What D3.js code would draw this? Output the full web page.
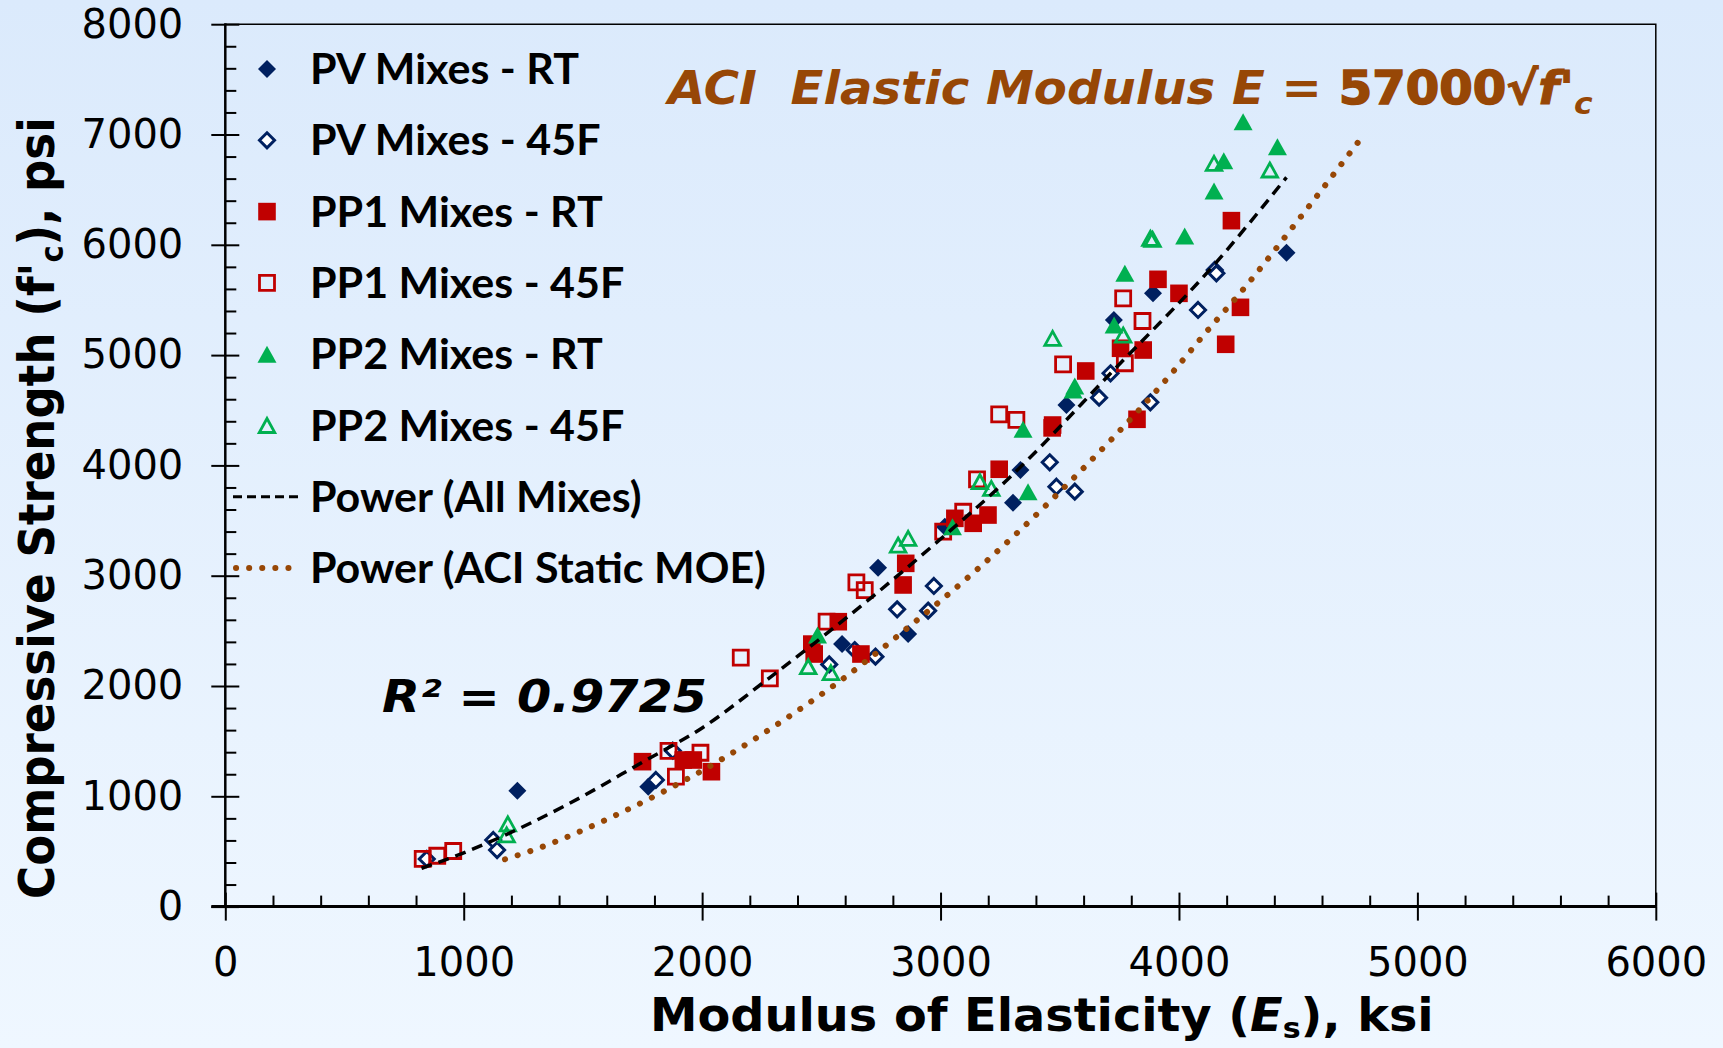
<!DOCTYPE html>
<html lang="en">
<head>
<meta charset="utf-8" />
<title>Compressive Strength vs Modulus of Elasticity</title>
<script src="https://cdn.jsdelivr.net/npm/d3@7"></script>
<style>
  body { margin: 0; background: #e6f1fd; }
  svg { display: block; }
  text { font-family: "DejaVu Sans", Verdana, sans-serif; }
  .legend text { font-family: Lato, "Open Sans", sans-serif; font-weight: bold; }
</style>
</head>
<body>
<div id="chart"></div>
<script>
// ---- data (E in ksi, f'c in psi) ----
var pvRT_E = [1225, 1774, 2587, 2738, 2864, 3018, 3304, 3335, 3528, 3727, 3891, 4451];
var pvRT_F = [1050, 1087, 2381, 3073, 2471, 3444, 3662, 3958, 4548, 5318, 5560, 5928];

var pv45_E = [845, 1124, 1140, 1806, 1877, 2533, 2640, 2727, 2818, 2948, 2972, 3458, 3486, 3563, 3665, 3713, 3880, 4080, 4150, 4157];
var pv45_F = [432, 604, 513, 1148, 1413, 2196, 2326, 2266, 2695, 2683, 2907, 4028, 3807, 3762, 4614, 4835, 4572, 5409, 5772, 5741];

var pp1RT_E = [1750, 1921, 1963, 2039, 2460, 2470, 2571, 2666, 2843, 2854, 3060, 3137, 3199, 3246, 3470, 3468, 3609, 3755, 3850, 3824, 3912, 4000, 4196, 4220, 4258];
var pp1RT_F = [1314, 1329, 1329, 1223, 2380, 2290, 2583, 2290, 2916, 3112, 3520, 3475, 3550, 3965, 4366, 4340, 4856, 5062, 5046, 4418, 5687, 5560, 5098, 6219, 5433];

var pp145_E = [828, 889, 956, 1859, 1890, 1993, 2162, 2284, 2522, 2647, 2682, 3011, 3095, 3153, 3246, 3318, 3514, 3766, 3773, 3847];
var pp145_F = [432, 461, 504, 1411, 1178, 1395, 2257, 2070, 2583, 2940, 2870, 3399, 3580, 3874, 4463, 4412, 4916, 5515, 4926, 5309];

var pp2RT_E = [2484, 3050, 3346, 3367, 3556, 3563, 3728, 3773, 4024, 4147, 4188, 4269, 4413];
var pp2RT_F = [2462, 3444, 4327, 3762, 4684, 4720, 5273, 5742, 6080, 6488, 6763, 7116, 6889];

var pp245_E = [1185, 1180, 2445, 2540, 2822, 2864, 3165, 3213, 3470, 3766, 3880, 3889, 4147, 4381];
var pp245_F = [750, 650, 2175, 2121, 3278, 3339, 3852, 3792, 5152, 5182, 6059, 6050, 6738, 6678];

// trendlines, sampled along the drawn curves
var fitAll_E = [823, 1000, 1430, 1750, 2000, 2280, 2720, 3020, 3280, 3720, 4160, 4451];
var fitAll_F = [347, 488, 920, 1310, 1620, 2070, 2820, 3370, 3870, 4850, 5850, 6612];

var aci_E = [1173, 1292, 1630, 2065, 2378, 2578, 2868, 3151, 3465, 3973, 4129, 4252, 4520, 4783];
var aci_F = [429, 513, 821, 1314, 1743, 2045, 2538, 3052, 3686, 4844, 5246, 5551, 6279, 7020];

var legendNames = ["PV Mixes - RT", "PV Mixes - 45F", "PP1 Mixes - RT", "PP1 Mixes - 45F",
                   "PP2 Mixes - RT", "PP2 Mixes - 45F", "Power (All Mixes)", "Power (ACI Static MOE)"];

var xTickValues = [0, 1000, 2000, 3000, 4000, 5000, 6000];
var yTickValues = [0, 1000, 2000, 3000, 4000, 5000, 6000, 7000, 8000];

var navy = "#002060", red = "#c00000", green = "#00b050", brown = "#974706";

var width = 1723, height = 1048;

var x = d3.scaleLinear().domain([0, 6000]).range([225.3, 1655.8]);
var y = d3.scaleLinear().domain([0, 8000]).range([906.6, 24.2]);

var svg = d3.select("#chart").append("svg")
    .attr("width", width)
    .attr("height", height);

var grad = svg.append("defs").append("linearGradient")
    .attr("id", "bg").attr("x1", 0).attr("y1", 0).attr("x2", 0).attr("y2", 1);
grad.append("stop").attr("offset", "0%").attr("stop-color", "#dbeafc");
grad.append("stop").attr("offset", "100%").attr("stop-color", "#eff7ff");

svg.append("rect").attr("width", width).attr("height", height).attr("fill", "url(#bg)");

// plot frame: thin top/right border
svg.append("path")
    .attr("d", "M" + x(0) + "," + y(8000) + "H" + x(6000) + "V" + y(0))
    .attr("fill", "none").attr("stroke", "#000").attr("stroke-width", 1.5);

// ---- axes ----
var xMinor = d3.range(0, 6001, 200).filter(function(d) { return d % 1000 !== 0; });
var yMinor = d3.range(0, 8001, 200).filter(function(d) { return d % 1000 !== 0; });
var fmt = d3.format("d");

var gx = svg.append("g").attr("transform", "translate(0," + y(0) + ")");
gx.append("g").call(d3.axisBottom(x).tickValues(xTickValues).tickFormat(fmt).tickSize(14).tickPadding(27).tickSizeOuter(0));
gx.append("g").call(d3.axisBottom(x).tickValues(xTickValues).tickSize(-14).tickFormat("").tickSizeOuter(0));
gx.append("g").call(d3.axisBottom(x).tickValues(xMinor).tickSize(-11).tickFormat("").tickSizeOuter(0));

var gy = svg.append("g").attr("transform", "translate(" + x(0) + ",0)");
gy.append("g").call(d3.axisLeft(y).tickValues(yTickValues).tickFormat(fmt).tickSize(14).tickPadding(28).tickSizeOuter(0));
gy.append("g").call(d3.axisLeft(y).tickValues(yTickValues).tickSize(-14).tickFormat("").tickSizeOuter(0));
gy.append("g").call(d3.axisLeft(y).tickValues(yMinor).tickSize(-11).tickFormat("").tickSizeOuter(0));

svg.selectAll(".domain").remove();
svg.selectAll(".tick line").attr("stroke", "#000").attr("stroke-width", 2);
svg.selectAll(".tick text")
    .attr("fill", "#000")
    .style("font-family", "'DejaVu Sans', Verdana, sans-serif")
    .style("font-size", "40px");

svg.append("line").attr("x1", x(0)).attr("x2", x(0)).attr("y1", y(8000) - 1).attr("y2", y(0))
    .attr("stroke", "#000").attr("stroke-width", 2.5);
svg.append("line").attr("x1", x(0) - 14).attr("x2", x(6000) + 1).attr("y1", y(0)).attr("y2", y(0))
    .attr("stroke", "#000").attr("stroke-width", 3);

// ---- markers ----
function diamond(r) { return "M0," + (-r) + "L" + r + ",0L0," + r + "L" + (-r) + ",0Z"; }
function square(h) { return "M" + (-h) + "," + (-h) + "H" + h + "V" + h + "H" + (-h) + "Z"; }
function triangle(w, h) { return "M0," + (-h / 2) + "L" + (w / 2) + "," + (h / 2) + "H" + (-w / 2) + "Z"; }

var series = [
  { E: pvRT_E, F: pvRT_F, d: diamond(9), fill: navy, stroke: "none", sw: 0 },
  { E: pv45_E, F: pv45_F, d: diamond(7.5), fill: "#fff", stroke: navy, sw: 3 },
  { E: pp1RT_E, F: pp1RT_F, d: square(8.8), fill: red, stroke: "none", sw: 0 },
  { E: pp145_E, F: pp145_F, d: square(7.5), fill: "none", stroke: red, sw: 2.8 },
  { E: pp2RT_E, F: pp2RT_F, d: triangle(19, 17), fill: green, stroke: "none", sw: 0 },
  { E: pp245_E, F: pp245_F, d: triangle(15.5, 14), fill: "none", stroke: green, sw: 2.8 }
];

series.forEach(function(s) {
  svg.append("g").selectAll("path")
    .data(s.E.map(function(e, i) { return [e, s.F[i]]; }))
    .enter().append("path")
      .attr("d", s.d)
      .attr("transform", function(p) { return "translate(" + x(p[0]) + "," + y(p[1]) + ")"; })
      .attr("fill", s.fill)
      .attr("stroke", s.stroke)
      .attr("stroke-width", s.sw);
});

// ---- trendlines ----
var line = d3.line()
    .x(function(p) { return x(p[0]); })
    .y(function(p) { return y(p[1]); })
    .curve(d3.curveMonotoneX);

svg.append("path")
    .attr("d", line(aci_E.map(function(e, i) { return [e, aci_F[i]]; })))
    .attr("fill", "none").attr("stroke", brown).attr("stroke-width", 6)
    .attr("stroke-linecap", "round").attr("stroke-dasharray", "0.1 13.2");

svg.append("path")
    .attr("d", line(fitAll_E.map(function(e, i) { return [e, fitAll_F[i]]; })))
    .attr("fill", "none").attr("stroke", "#000").attr("stroke-width", 3.5)
    .attr("stroke-dasharray", "11 7");

// ---- text helpers ----
function squeeze(t, w, x0, y0, rot) {
  var len = t.node().getComputedTextLength();
  t.attr("transform", "translate(" + x0 + "," + y0 + ") rotate(" + (rot || 0) + ") scale(" + (w / len) + ",1)");
}

// ---- legend ----
var lg = svg.append("g").attr("class", "legend");
var rowY = function(i) { return 69 + i * 71.3; };
series.forEach(function(s, i) {
  lg.append("path").attr("d", s.d)
    .attr("transform", "translate(267," + rowY(i) + ")")
    .attr("fill", s.fill).attr("stroke", s.stroke).attr("stroke-width", s.sw);
});
lg.append("line").attr("x1", 233).attr("x2", 303).attr("y1", rowY(6)).attr("y2", rowY(6))
  .attr("stroke", "#000").attr("stroke-width", 3).attr("stroke-dasharray", "9 5");
lg.append("line").attr("x1", 236).attr("x2", 300).attr("y1", rowY(7)).attr("y2", rowY(7))
  .attr("stroke", brown).attr("stroke-width", 6).attr("stroke-linecap", "round").attr("stroke-dasharray", "0.1 13");

var legendTexts = legendNames.map(function(name) {
  return lg.append("text").attr("x", 0).attr("y", 0)
    .style("font-size", "42px").attr("fill", "#000").text(name);
});
var lgScale = 269 / legendTexts[0].node().getComputedTextLength();
legendTexts.forEach(function(t, i) {
  t.attr("transform", "translate(310," + (rowY(i) + 15) + ") scale(" + lgScale + ",1)");
});

// ---- titles ----
var yt = svg.append("text").attr("x", 0).attr("y", 0)
  .style("font-size", "50px").style("font-weight", "bold").attr("fill", "#000");
yt.append("tspan").text("Compressive Strength (f'");
yt.append("tspan").text("c").style("font-size", "32px").attr("dy", 9);
yt.append("tspan").text("), psi").attr("dy", -9);
squeeze(yt, 782, 54, 899, -90);

var xt = svg.append("text").attr("x", 0).attr("y", 0)
  .style("font-size", "46px").style("font-weight", "bold").attr("fill", "#000");
xt.append("tspan").text("Modulus of Elasticity (");
xt.append("tspan").text("E").style("font-style", "italic");
xt.append("tspan").text("s").style("font-size", "29px").attr("dy", 7);
xt.append("tspan").text("), ksi").attr("dy", -7);
squeeze(xt, 784, 650, 1031);

var tt = svg.append("text").attr("x", 0).attr("y", 0)
  .style("font-size", "46px").style("font-weight", "bold").style("font-style", "italic")
  .attr("fill", brown).attr("xml:space", "preserve").style("white-space", "pre");
tt.append("tspan").text("ACI  Elastic Modulus E = ");
tt.append("tspan").text("57000").style("font-style", "normal").attr("stroke", brown).attr("stroke-width", 1.5);
tt.append("tspan").text("\u221Af'").attr("stroke", brown).attr("stroke-width", 1);
tt.append("tspan").text("c").style("font-size", "30px").attr("dy", 10);
squeeze(tt, 925, 668, 104);

var rt = svg.append("text").attr("x", 0).attr("y", 0)
  .style("font-size", "45px").style("font-weight", "bold").style("font-style", "italic")
  .attr("fill", "#000").text("R\u00B2 = 0.9725");
squeeze(rt, 325, 382, 712);
</script>
</body>
</html>
